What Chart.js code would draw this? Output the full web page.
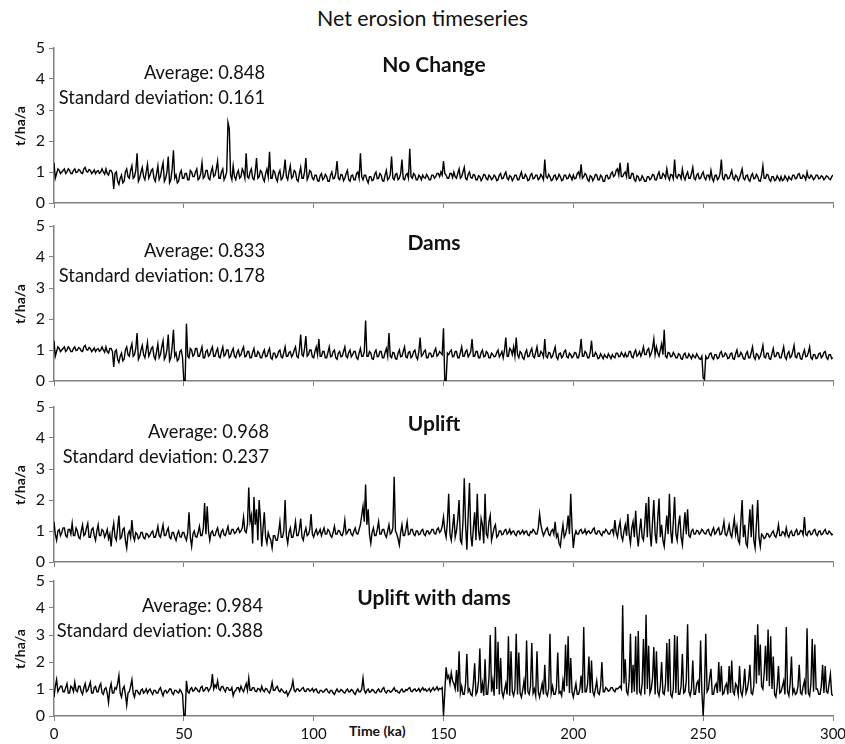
<!DOCTYPE html>
<html>
<head>
<meta charset="utf-8">
<title>Net erosion timeseries</title>
<script src="https://cdn.jsdelivr.net/npm/chart.js@4.4.0/dist/chart.umd.min.js"></script>
<style>
  body { margin: 0; background: #fff; width: 845px; height: 744px; position: relative; overflow: hidden;
         font-family: Lato, "Open Sans", sans-serif; color: #111; }
  canvas { position: absolute; left: 0; }
  .txt { position: absolute; white-space: nowrap; line-height: 1; }
  .main { left: 0; width: 845px; top: 8px; text-align: center; font-size: 21.4px; }
  .sub { width: 300px; text-align: center; font-weight: bold; font-size: 21px; }
  .stat { width: 280px; text-align: right; font-size: 18.3px; }
  .ytitle { font-weight: bold; font-size: 14px; transform: rotate(-90deg); transform-origin: center; width: 60px; text-align: center; }
  .xtitle { font-weight: bold; font-size: 14px; }
</style>
</head>
<body>
<div class="txt main">Net erosion timeseries</div>
<div class="txt xtitle" style="left:349px;top:724px">Time (ka)</div>

<script>
// --- Datos: tasa de erosión neta (t/ha/a), una muestra cada 0.5 ka, t = 0..300 ---
const PASO_KA = 0.5;

const NO_CHANGE = [
  1.30,0.80,0.95,1.10,1.05,0.95,1.00,1.05,1.10,0.95,1.00,1.10,1.05,0.95,0.95,1.05,1.10,0.98,1.00,1.08,
  1.05,0.97,0.95,1.10,1.15,1.02,1.00,1.08,1.05,0.95,1.00,1.07,0.95,1.02,1.05,0.96,1.00,1.10,1.00,0.93,
  1.10,0.95,0.90,1.05,1.05,0.95,0.45,0.95,1.00,0.70,0.60,0.80,0.90,0.65,0.70,1.00,1.10,0.85,0.80,1.05,
  1.20,0.80,0.85,1.05,1.60,0.70,0.80,1.00,1.15,0.85,0.75,1.00,1.25,0.80,0.90,1.05,1.10,0.80,0.70,0.95,
  1.20,0.75,0.85,1.10,1.30,0.70,0.80,1.00,1.50,0.65,0.75,1.10,1.70,0.80,0.90,0.65,0.70,0.95,1.05,0.80,
  0.80,0.95,0.95,0.75,0.75,1.05,1.00,0.85,0.85,1.00,1.10,0.75,0.80,0.95,1.30,0.80,0.85,1.05,1.05,0.80,
  0.75,1.00,1.15,0.85,0.90,1.10,1.35,0.80,0.80,1.00,1.10,0.75,0.85,1.00,2.60,2.40,0.90,0.75,1.20,0.85,
  0.75,0.95,1.05,0.80,0.85,1.10,1.00,0.80,1.60,0.85,0.80,1.00,1.10,0.80,0.75,1.00,1.45,0.80,0.85,1.05,
  1.00,0.80,0.70,0.95,1.10,0.85,1.65,0.80,0.80,1.05,1.00,0.80,0.70,0.95,1.05,0.75,0.80,1.00,1.40,0.85,
  0.75,1.00,1.20,0.80,0.85,1.05,1.00,0.75,0.70,0.95,1.15,0.80,0.80,1.00,1.45,0.75,0.85,1.05,1.00,0.80,
  0.75,0.90,0.90,0.72,0.70,0.88,0.95,0.75,0.80,0.92,0.85,0.70,0.70,0.90,1.00,0.78,0.80,0.95,1.35,0.80,
  0.75,0.92,0.90,0.72,0.80,0.95,1.05,0.75,0.70,0.88,0.90,0.75,0.75,0.95,1.00,0.80,1.60,0.85,0.75,0.90,
  0.90,0.75,0.65,0.85,0.85,0.72,0.75,0.92,1.00,0.78,0.80,0.95,0.90,0.72,0.70,0.90,1.05,0.75,0.80,0.92,
  1.50,0.80,0.75,0.92,0.95,0.75,0.80,0.95,1.40,0.78,0.75,0.90,0.95,0.80,1.75,0.85,0.80,0.95,0.90,0.75,
  0.75,0.90,0.85,0.75,0.90,0.82,0.80,0.92,0.85,0.75,0.75,0.90,0.90,0.80,0.85,0.95,0.95,0.85,1.00,0.90,
  1.35,0.95,0.90,0.80,0.80,0.95,0.95,0.82,1.00,0.85,0.80,0.95,1.10,0.80,0.85,1.00,1.15,0.80,0.75,0.92,
  1.00,0.82,0.80,0.92,0.90,0.75,0.75,0.88,0.85,0.72,0.80,0.92,0.90,0.78,0.75,0.90,0.85,0.75,0.80,0.90,
  0.85,0.72,0.75,0.90,0.95,0.78,0.80,0.92,1.00,0.80,0.75,0.88,0.85,0.72,0.80,0.90,0.90,0.75,0.75,0.88,
  1.00,0.80,0.80,0.92,0.85,0.72,0.75,0.90,0.95,0.78,0.80,0.90,0.90,0.75,0.80,0.92,0.85,0.75,1.40,0.85,
  0.80,0.92,0.85,0.72,0.75,0.88,0.90,0.75,0.80,0.92,0.85,0.72,0.75,0.90,0.90,0.78,0.80,0.92,0.85,0.75,
  0.90,0.78,0.80,0.95,1.00,0.85,1.25,0.80,0.85,0.95,0.90,0.75,0.70,0.88,0.85,0.72,0.80,0.92,0.90,0.75,
  0.75,0.90,0.85,0.70,0.70,0.88,0.90,0.78,0.80,0.95,1.00,0.85,0.90,1.05,1.10,0.90,1.30,0.85,0.85,0.95,
  1.00,0.85,1.30,0.80,0.80,0.95,0.95,0.75,0.70,0.88,0.85,0.72,0.75,0.88,0.80,0.70,0.70,0.85,0.85,0.75,
  0.80,0.92,0.90,0.75,0.75,0.90,1.00,0.80,0.80,0.95,0.90,0.80,1.10,0.85,0.75,0.92,0.90,0.78,1.40,0.85,
  0.80,0.92,0.90,0.78,1.10,0.85,0.75,0.90,1.00,0.80,0.80,0.95,1.15,0.80,0.75,0.90,0.95,0.78,0.80,0.92,
  1.00,0.82,0.75,0.90,0.90,0.78,1.05,0.80,0.70,0.88,0.90,0.75,0.80,0.95,1.40,0.80,0.75,0.92,0.90,0.78,
  0.80,0.92,1.05,0.80,0.75,0.90,0.85,0.72,0.80,0.95,1.10,0.80,0.75,0.88,0.90,0.75,0.70,0.88,0.95,0.78,
  0.80,0.92,0.85,0.72,0.70,0.88,1.20,0.80,0.80,0.92,0.90,0.75,0.70,0.85,0.85,0.72,0.75,0.88,0.80,0.72,
  0.85,0.72,0.75,0.88,0.80,0.72,0.85,0.78,0.75,0.90,0.90,0.78,0.80,0.92,0.95,0.80,0.80,0.90,0.85,0.75,
  1.00,0.82,0.80,0.90,0.85,0.75,0.80,0.90,0.90,0.78,0.80,0.88,0.85,0.75,0.80,0.88,0.85,0.78,0.75,0.85,
  0.90
];

const DAMS = [
  1.30,0.80,0.95,1.10,1.05,0.95,1.00,1.05,1.10,0.95,1.00,1.10,1.05,0.95,0.95,1.05,1.10,0.98,1.00,1.08,
  1.05,0.97,0.95,1.10,1.15,1.02,1.00,1.08,1.05,0.95,1.00,1.07,0.95,1.02,1.05,0.96,1.00,1.10,1.00,0.93,
  1.10,0.95,0.90,1.05,1.05,0.95,0.45,0.95,1.00,0.70,0.60,0.80,0.90,0.65,0.70,1.00,1.10,0.85,0.80,1.05,
  1.20,0.80,0.85,1.05,1.55,0.70,0.80,1.00,1.15,0.85,0.75,1.00,1.25,0.80,0.90,1.05,1.10,0.80,0.70,0.95,
  1.20,0.75,0.85,1.10,1.30,0.70,0.80,1.00,1.50,0.65,0.75,1.10,1.65,0.80,0.90,0.65,0.70,0.95,1.00,0.75,
  0.00,0.00,1.85,0.80,0.75,1.05,1.00,0.80,0.85,1.05,1.05,0.80,0.80,0.95,1.10,0.75,0.75,0.95,1.00,0.80,
  0.85,1.00,1.10,0.80,0.80,0.95,1.05,0.78,0.75,0.95,1.10,0.80,0.85,1.00,1.00,0.75,0.80,0.95,1.05,0.80,
  0.75,0.92,1.00,0.80,0.85,1.00,1.10,0.78,0.80,0.95,0.95,0.75,0.75,0.92,1.05,0.80,0.80,0.95,0.90,0.75,
  0.75,0.90,1.00,0.78,0.80,0.95,1.05,0.75,0.70,0.90,0.90,0.75,0.80,0.95,1.00,0.78,0.75,0.92,1.10,0.80,
  0.80,0.92,0.95,0.78,0.85,1.00,1.10,0.80,0.75,1.00,1.50,0.85,0.80,1.05,1.45,0.80,0.85,1.00,1.00,0.78,
  0.75,0.95,1.10,0.85,1.35,0.80,0.80,0.95,0.95,0.75,0.75,0.92,1.10,0.78,0.80,0.95,1.00,0.75,0.70,0.90,
  0.95,0.78,0.80,0.95,1.10,0.80,0.75,0.92,1.00,0.78,0.85,0.95,0.95,0.75,0.70,0.90,1.05,0.80,0.80,0.95,
  1.95,0.80,0.80,0.95,0.90,0.72,0.70,0.92,1.00,0.78,0.80,0.95,0.95,0.75,0.75,0.92,1.05,0.80,1.55,0.80,
  0.75,0.92,0.90,0.72,0.70,0.90,1.00,0.78,0.80,0.95,1.10,0.78,0.75,0.92,0.95,0.75,0.80,0.95,1.00,0.78,
  0.70,0.95,1.40,0.80,0.85,0.95,1.00,0.75,0.75,0.90,0.90,0.78,0.80,0.95,1.05,0.80,0.85,0.95,0.90,0.85,
  1.70,0.00,0.00,0.90,0.85,0.95,1.00,0.78,0.80,0.95,0.95,0.75,0.75,0.92,1.10,0.80,0.80,0.95,1.00,0.78,
  0.85,0.95,1.35,0.80,0.80,0.95,0.95,0.75,0.75,0.92,1.00,0.78,0.80,0.95,0.90,0.75,0.75,0.90,0.85,0.78,
  0.80,0.92,1.00,0.78,0.85,0.95,0.75,1.00,1.40,0.80,0.80,1.05,1.00,0.85,1.10,0.80,1.40,0.85,0.75,0.95,
  0.90,0.75,0.70,0.90,1.00,0.78,0.80,0.95,1.05,0.80,0.75,0.92,1.10,0.80,0.80,0.95,0.90,0.78,1.35,0.80,
  0.75,0.92,0.90,0.75,0.80,0.95,1.10,0.78,0.70,0.88,0.90,0.75,0.80,0.95,1.00,0.78,0.75,0.90,0.85,0.75,
  0.80,0.92,0.90,0.75,0.75,0.95,1.35,0.80,0.80,0.95,0.90,0.75,0.75,0.92,1.30,0.80,0.80,0.92,0.85,0.72,
  0.75,0.88,0.80,0.72,0.85,0.78,0.75,0.88,0.80,0.72,0.85,0.78,0.75,0.90,0.90,0.78,0.80,0.92,0.85,0.78,
  0.90,0.78,0.80,0.95,0.95,0.78,0.75,0.92,1.00,0.80,0.85,0.95,0.80,0.92,1.10,0.85,0.85,1.00,1.05,0.80,
  0.90,1.05,1.35,0.85,1.10,0.90,0.80,1.00,1.20,0.85,1.65,0.80,0.75,0.92,0.90,0.78,0.80,0.92,0.85,0.75,
  0.75,0.88,0.85,0.72,0.70,0.85,0.90,0.75,0.75,0.88,0.80,0.72,0.85,0.78,0.75,0.88,0.80,0.72,0.70,0.80,
  0.10,0.05,0.80,0.72,0.75,0.88,0.90,0.75,0.70,0.85,0.85,0.72,0.75,0.90,0.95,0.78,0.80,0.90,0.85,0.72,
  0.75,0.88,0.90,0.72,0.70,0.88,1.00,0.78,0.80,0.92,0.85,0.72,0.70,0.88,0.95,0.75,0.75,0.92,1.10,0.78,
  0.70,0.88,0.85,0.72,0.80,0.95,1.15,0.78,0.75,0.90,0.90,0.72,0.70,0.88,1.05,0.78,0.80,0.92,0.90,0.75,
  0.75,0.92,1.10,0.78,0.70,0.88,0.95,0.75,0.80,0.95,1.15,0.78,0.75,0.90,0.90,0.72,0.70,0.88,1.00,0.78,
  0.80,0.92,1.10,0.75,0.70,0.85,0.85,0.72,0.75,0.88,0.90,0.75,0.80,0.92,0.95,0.75,0.70,0.85,0.85,0.72,
  0.75
];

const UPLIFT = [
  1.30,0.90,0.70,1.00,1.05,0.85,0.95,1.10,1.10,0.85,0.80,1.05,1.05,0.90,1.25,0.85,0.85,1.10,1.00,0.80,
  0.75,1.00,1.20,0.85,0.90,1.10,1.25,0.80,0.80,1.05,1.10,0.85,0.70,1.00,1.20,0.85,0.85,1.05,1.00,0.80,
  0.90,1.05,0.75,0.90,0.50,1.00,1.25,0.80,0.70,1.10,1.50,0.75,0.80,1.05,1.10,0.70,0.45,0.90,1.00,0.80,
  1.35,0.85,0.70,0.95,0.90,0.75,0.80,0.95,0.95,0.78,0.75,0.92,0.90,0.80,0.85,0.95,1.00,0.80,0.80,0.95,
  1.15,0.85,0.80,1.00,1.20,0.85,0.85,1.00,1.10,0.80,0.75,0.95,0.95,0.80,0.70,0.90,1.00,0.82,0.80,0.95,
  0.95,0.80,0.70,0.95,1.60,0.80,0.50,0.90,1.00,0.82,0.80,0.95,1.15,0.85,0.85,1.10,1.90,0.90,1.80,1.00,
  0.70,0.95,1.00,0.85,0.85,1.00,1.10,0.88,0.80,0.98,1.05,0.88,0.85,1.00,1.15,0.90,0.90,1.05,1.05,0.92,
  0.95,1.05,1.10,0.95,1.00,1.10,1.45,1.00,0.95,1.20,2.40,1.30,1.50,0.60,2.10,1.20,1.70,0.70,2.00,1.40,
  0.50,1.10,1.60,0.80,0.60,0.95,0.80,0.70,0.45,0.85,0.85,0.70,0.70,0.95,1.30,0.80,0.80,1.00,2.00,0.85,
  0.60,0.95,1.10,0.80,0.80,1.00,1.30,0.85,0.85,1.05,1.40,0.80,0.70,0.95,1.10,0.85,0.90,1.05,1.55,0.90,
  0.80,0.95,1.05,0.88,0.95,1.05,0.85,0.98,1.10,0.90,0.90,1.05,1.00,0.85,0.80,0.95,1.15,0.90,0.90,1.02,
  1.00,0.88,0.85,1.00,1.35,0.90,0.95,1.05,1.05,0.90,0.85,1.00,1.10,0.92,0.90,1.05,1.20,1.50,1.80,1.30,
  2.50,1.20,1.70,0.90,0.60,0.95,1.10,0.85,0.85,1.05,1.30,0.90,0.90,1.05,1.05,0.88,0.80,1.00,1.20,0.90,
  0.95,1.10,2.75,1.00,0.90,0.75,0.55,0.95,1.20,0.85,0.85,1.05,1.30,0.88,0.90,1.05,1.05,0.90,0.85,1.00,
  1.00,0.88,0.90,1.02,1.05,0.90,0.85,1.00,1.00,0.90,0.95,1.05,1.05,0.92,0.90,1.05,1.10,0.95,1.00,1.15,
  1.45,1.00,0.80,1.30,2.20,0.90,0.70,1.10,1.55,0.80,1.00,1.40,2.00,0.70,0.60,1.30,2.70,1.20,0.40,1.50,
  2.55,0.90,0.50,1.10,1.60,0.70,2.20,1.00,0.70,1.40,1.20,0.60,2.20,0.90,0.80,1.30,1.50,0.70,0.90,1.10,
  1.20,0.80,0.85,1.00,1.00,0.88,0.90,1.02,1.05,0.90,0.95,1.05,0.90,0.98,1.00,0.90,0.85,0.98,1.00,0.90,
  0.95,1.02,0.90,0.98,1.00,0.88,0.85,0.98,0.95,1.05,1.00,0.90,0.90,1.10,1.55,1.20,1.00,0.85,0.95,1.05,
  1.10,0.90,0.85,1.00,1.05,0.90,1.30,0.80,0.90,0.60,0.50,0.90,1.20,0.80,0.90,1.10,1.50,0.90,2.20,1.10,
  0.45,0.85,1.00,0.90,0.90,1.02,1.05,0.92,0.95,1.05,0.90,0.98,1.00,0.92,0.95,1.05,1.10,0.92,0.90,1.00,
  1.00,0.90,0.85,0.98,0.95,1.05,1.00,0.90,0.90,1.02,1.05,0.90,1.35,0.95,0.80,1.10,1.30,0.85,0.70,1.00,
  1.20,0.85,1.55,0.90,0.60,1.10,1.30,0.80,1.65,0.90,0.50,1.00,1.40,0.80,0.70,1.20,1.90,0.80,2.10,1.00,
  0.50,1.30,2.00,0.90,0.60,1.40,2.05,0.80,1.20,0.70,0.50,1.00,1.50,0.90,2.20,1.00,0.60,1.30,2.10,0.90,
  0.70,1.20,1.50,0.80,0.55,1.10,1.60,0.90,1.70,0.85,0.80,1.00,1.05,0.90,0.90,1.02,1.00,0.90,0.95,1.05,
  1.00,0.92,0.90,1.02,1.05,0.90,0.85,1.00,1.10,0.90,0.95,1.05,1.10,0.88,0.90,1.05,1.30,0.90,0.85,1.00,
  1.20,0.90,0.80,1.10,1.40,0.90,1.15,0.70,0.60,1.30,2.00,0.80,1.20,0.60,0.50,1.10,1.70,0.80,1.85,0.70,
  0.45,1.20,2.00,0.80,0.50,0.90,0.85,0.75,0.80,0.92,0.90,0.80,0.85,0.95,1.00,0.85,0.80,0.95,1.20,0.85,
  0.85,0.98,0.95,0.85,1.10,0.88,0.80,0.95,1.00,0.85,0.85,0.98,1.05,0.88,0.90,1.02,1.00,0.88,1.45,0.90,
  0.85,0.98,1.00,0.88,0.90,1.02,1.05,0.90,0.85,0.98,1.00,0.88,0.90,1.00,1.05,0.92,0.90,1.00,0.95,0.88,
  0.90
];

const UPLIFT_DAMS = [
  0.70,1.10,1.35,0.90,1.00,1.10,1.10,0.90,0.90,1.05,1.20,0.85,0.85,1.10,1.05,0.90,1.25,0.95,0.90,1.10,
  1.10,0.90,0.80,1.05,1.20,0.90,0.95,1.10,1.25,0.85,0.85,1.05,1.10,0.90,0.90,1.10,1.20,0.85,0.80,1.00,
  1.05,0.85,0.50,1.00,1.20,0.85,0.85,1.05,1.00,1.20,1.50,0.85,0.70,1.00,1.10,0.80,0.40,0.85,0.90,1.10,
  1.35,0.85,0.70,0.95,0.95,0.85,0.80,0.95,1.00,0.85,0.90,1.00,0.85,0.95,1.00,0.88,0.80,0.95,0.95,0.85,
  0.85,0.98,1.05,0.88,0.75,0.92,0.95,0.85,0.90,1.00,1.00,0.85,0.80,0.95,0.95,0.88,0.85,0.98,0.90,0.80,
  0.00,0.00,1.30,0.90,0.85,1.00,1.05,0.92,0.95,1.05,1.00,0.92,0.90,1.05,1.10,0.92,0.95,1.05,1.05,0.92,
  1.00,1.10,1.55,1.00,1.15,1.05,1.30,1.00,0.95,1.08,1.10,0.98,0.90,1.05,1.05,0.95,0.95,1.05,0.75,0.90,
  0.95,1.05,1.05,0.92,1.10,0.98,0.90,1.05,1.20,0.95,1.40,0.95,0.95,1.05,1.05,0.92,0.90,1.02,1.00,0.92,
  1.10,0.95,0.90,1.02,1.00,0.90,0.85,1.00,1.25,0.95,0.95,1.05,1.10,0.95,0.90,1.00,0.95,0.88,0.85,0.92,
  0.75,0.85,0.95,1.05,1.30,0.95,0.90,1.00,1.00,0.92,0.95,1.02,1.05,0.92,0.90,1.00,1.00,0.92,0.95,1.02,
  0.90,0.98,1.00,0.88,0.85,0.95,0.95,0.88,0.90,0.98,1.00,0.90,0.85,0.95,0.95,0.85,0.80,0.92,1.00,0.90,
  0.90,0.98,0.95,0.88,0.85,0.95,1.00,0.90,0.90,0.98,0.95,0.85,0.80,0.92,1.00,0.90,0.90,1.00,1.40,0.95,
  0.85,0.95,1.00,0.88,0.90,0.98,0.95,0.88,0.85,0.95,1.00,0.90,0.90,1.00,1.05,0.90,0.85,0.95,0.95,0.88,
  0.90,0.98,1.05,0.92,0.95,0.88,0.85,0.95,1.00,0.90,0.90,0.98,0.95,1.02,1.05,0.92,0.90,0.98,1.00,0.92,
  0.95,1.02,0.90,0.98,1.05,0.95,1.00,0.92,0.95,1.02,0.90,0.98,1.05,0.95,1.00,1.08,0.95,1.02,1.00,1.05,
  0.00,0.90,1.80,1.40,1.50,1.20,1.60,1.30,1.20,1.00,1.70,0.90,2.40,0.85,1.10,0.80,0.80,1.20,2.30,0.90,
  1.00,0.80,0.75,1.20,1.95,0.80,0.90,1.30,2.50,0.85,1.20,0.75,2.10,0.80,0.80,1.40,3.00,0.90,1.30,0.75,
  3.30,1.00,2.75,0.80,2.15,0.90,0.70,0.95,1.20,0.80,2.95,0.75,2.40,0.90,0.75,1.00,3.05,0.80,2.35,0.85,
  0.70,0.95,1.30,0.80,2.80,0.90,0.80,1.10,2.70,0.85,1.00,0.75,2.40,0.90,0.70,0.95,1.20,0.80,1.90,0.85,
  0.75,1.00,3.05,0.85,1.10,0.80,0.80,1.05,2.35,0.85,0.90,0.75,1.30,0.90,2.65,1.10,2.95,0.85,2.15,0.90,
  0.70,0.95,1.20,0.80,0.80,1.00,1.50,0.85,3.30,0.90,0.90,1.20,2.20,0.85,2.05,0.90,0.75,1.00,1.30,0.85,
  0.80,1.10,2.00,0.90,0.90,1.05,1.00,0.92,0.95,1.05,1.05,0.95,0.90,1.02,1.00,1.05,1.10,1.00,4.10,1.20,
  2.10,0.90,0.80,1.30,3.05,0.85,1.90,0.90,2.95,0.80,3.15,0.90,0.80,1.20,2.85,0.80,3.75,1.00,2.60,0.85,
  1.00,1.40,2.55,0.80,2.40,0.90,0.75,1.10,2.00,0.85,0.80,1.20,2.70,0.90,2.85,0.80,0.70,1.00,3.00,0.85,
  2.95,0.80,0.80,1.10,2.30,0.85,0.90,1.30,3.40,0.90,0.75,1.00,2.05,0.80,0.80,1.20,1.30,0.85,2.80,0.90,
  0.00,1.00,3.05,0.90,1.00,1.40,1.75,0.80,0.80,1.10,1.20,0.85,2.00,0.90,1.85,0.80,0.85,1.10,1.20,0.80,
  1.85,0.85,2.05,0.90,0.80,1.20,1.10,0.80,1.85,0.90,0.75,1.10,1.75,0.85,1.00,1.30,1.90,0.85,0.80,1.10,
  3.00,1.20,3.40,1.50,2.65,1.10,1.00,1.60,2.60,1.30,3.20,1.10,2.95,1.00,2.20,0.80,0.70,1.10,1.85,0.85,
  0.90,1.10,1.30,0.80,3.30,0.90,0.75,1.20,2.20,0.85,1.00,0.80,0.85,1.10,1.90,0.85,0.80,1.10,1.30,0.80,
  3.25,0.85,0.75,1.20,2.85,0.90,2.65,1.00,1.00,0.80,0.80,1.10,1.90,0.85,1.85,0.90,0.85,1.20,1.55,0.80,
  0.75
];

const Y_TICKS = [0, 1, 2, 3, 4, 5];
const X_TICKS = [0, 50, 100, 150, 200, 250, 300];

// --- Paneles (posición en la página en px) ---
const PANELES = [
  { titulo: 'No Change',        datos: NO_CHANGE,   media: '0.848', sd: '0.161', top: 48,  bottom: 203, statRight: 265, etiquetas: false },
  { titulo: 'Dams',             datos: DAMS,        media: '0.833', sd: '0.178', top: 226, bottom: 381, statRight: 265, etiquetas: false },
  { titulo: 'Uplift',           datos: UPLIFT,      media: '0.968', sd: '0.237', top: 407, bottom: 562, statRight: 269, etiquetas: false },
  { titulo: 'Uplift with dams', datos: UPLIFT_DAMS, media: '0.984', sd: '0.388', top: 581, bottom: 716, statRight: 263, etiquetas: true }
];

const PAD_TOP = 8;
const EJE_COLOR = '#808080';
const fuente = 'Lato, "Open Sans", sans-serif';

function addText(cls, text, style) {
  const d = document.createElement('div');
  d.className = 'txt ' + cls;
  d.textContent = text;
  Object.assign(d.style, style);
  document.body.appendChild(d);
}

PANELES.forEach((p) => {
  const alturaEje = p.etiquetas ? 30 : 8;
  const canvas = document.createElement('canvas');
  canvas.width = 845;
  canvas.height = (p.bottom - p.top) + PAD_TOP + alturaEje;
  canvas.style.top = (p.top - PAD_TOP) + 'px';
  document.body.appendChild(canvas);

  const puntos = p.datos.map((v, i) => ({ x: i * PASO_KA, y: v }));

  new Chart(canvas.getContext('2d'), {
    type: 'line',
    data: {
      datasets: [{
        data: puntos,
        borderColor: '#000',
        borderWidth: 1.4,
        pointRadius: 0,
        tension: 0
      }]
    },
    options: {
      responsive: false,
      animation: false,
      layout: { padding: { top: PAD_TOP, right: 12, left: 0, bottom: 0 } },
      plugins: { legend: { display: false }, tooltip: { enabled: false }, title: { display: false } },
      scales: {
        x: {
          type: 'linear',
          min: 0, max: 300,
          afterBuildTicks: s => { s.ticks = X_TICKS.map(v => ({ value: v })); },
          afterFit: s => { s.height = alturaEje; s.paddingLeft = 0; s.paddingRight = 0; },
          ticks: {
            display: p.etiquetas,
            maxRotation: 0,
            padding: 4,
            color: '#111',
            font: { family: fuente, size: 15 }
          },
          grid: { drawOnChartArea: false, drawTicks: true, tickLength: 5, color: EJE_COLOR },
          border: { display: true, color: EJE_COLOR, width: 1.5 }
        },
        y: {
          min: 0, max: 5,
          afterBuildTicks: s => { s.ticks = Y_TICKS.map(v => ({ value: v })); },
          afterFit: s => { s.width = 54; s.paddingTop = 0; s.paddingBottom = 0; },
          ticks: {
            padding: 4,
            color: '#111',
            font: { family: fuente, size: 16 }
          },
          grid: { drawOnChartArea: false, drawTicks: true, tickLength: 5, color: EJE_COLOR },
          border: { display: true, color: EJE_COLOR, width: 1.5 }
        }
      }
    }
  });

  // Textos del panel
  addText('sub', p.titulo, { left: (434 - 150) + 'px', top: (p.top + 5) + 'px' });
  addText('stat', 'Average: ' + p.media, { left: (p.statRight - 280) + 'px', top: (p.top + 15) + 'px' });
  addText('stat', 'Standard deviation: ' + p.sd, { left: (p.statRight - 280) + 'px', top: (p.top + 40) + 'px' });
  addText('ytitle', 't/ha/a', { left: (20 - 30) + 'px', top: ((p.top + p.bottom) / 2 - 7) + 'px' });
});
</script>
</body>
</html>
